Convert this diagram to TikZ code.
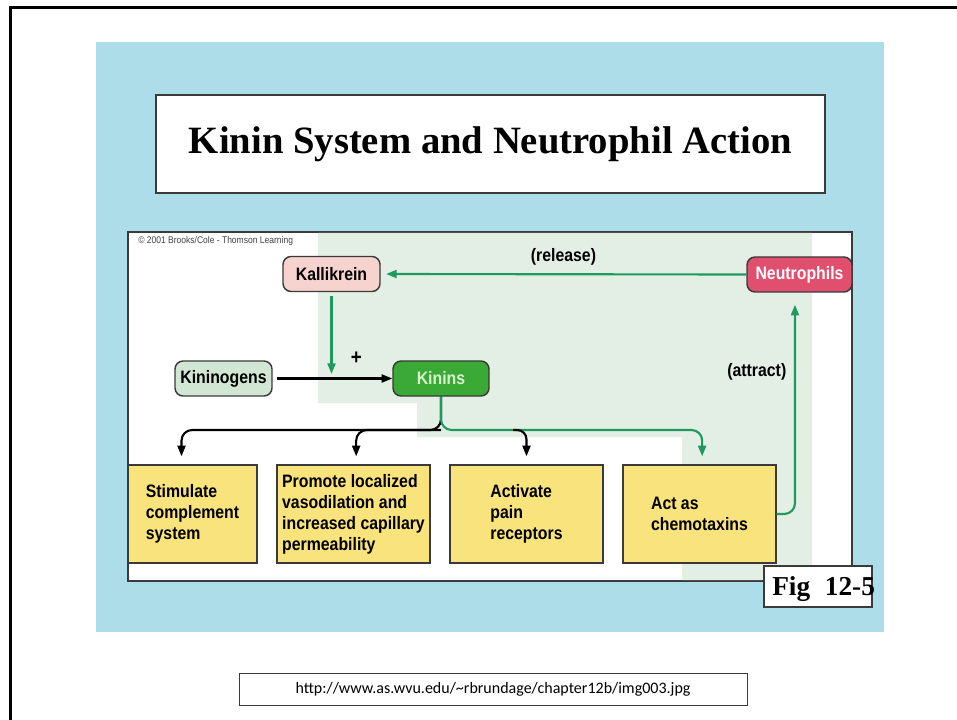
\documentclass[tikz,border=0pt]{standalone}
\usepackage{fontspec}
\setmainfont{Liberation Serif}
\setsansfont{Liberation Sans}[FakeStretch=0.88]
\newfontfamily\urlfont{Carlito}
\usepackage{xcolor}
\usepackage{tikz}
\usetikzlibrary{positioning, arrows.meta, calc}
\definecolor{dropblue}{HTML}{ACDDE8}
\definecolor{panelshade}{HTML}{E3EFE5}
\definecolor{kingreen}{HTML}{1E9A5E}
\definecolor{kallipink}{HTML}{F7D3CF}
\definecolor{neutrored}{HTML}{E0506E}
\definecolor{kininfill}{HTML}{3BA935}
\definecolor{kinintext}{HTML}{D9F3CF}
\definecolor{kinogfill}{HTML}{D2E7D3}
\definecolor{effectyellow}{HTML}{F9E37C}
\definecolor{boxline}{HTML}{3A3A3A}

\tikzset{
  labelfont/.style={font=\sffamily\bfseries\fontsize{13.5}{15.75}\selectfont},
  mol/.style={labelfont, draw=boxline, line width=1.1pt, rounded corners=6pt, minimum height=26.25pt, inner sep=2pt},
  effect/.style={labelfont, draw=boxline, line width=1pt, fill=effectyellow, align=left, minimum width=114.75pt, minimum height=73.5pt},
  greenarrow/.style={draw=kingreen, line width=1.6pt, -{Triangle[length=8pt, width=6pt]}},
  blackarrow/.style={draw=black, line width=1.6pt, -{Triangle[length=8pt, width=6pt]}}
}

\begin{document}
\begin{tikzpicture}[x=0.75pt, y=-0.75pt]
  \useasboundingbox (0,0) rectangle (957,720);
  \fill[white] (0,0) rectangle (957,720);
  \draw[line width=2.25pt] (10,8) rectangle (962,726);
  \fill[dropblue] (96,42) rectangle (884,632);

  \node[draw=boxline, line width=1pt, fill=white, minimum width=501.75pt, minimum height=73.5pt,
        font=\bfseries\fontsize{29}{33}\selectfont] (title) at (490.5,144) {Kinin System and Neutrophil Action};

  \draw[draw=boxline, line width=0.8pt, fill=white] (128,232) rectangle (852,581);
  \fill[panelshade] (318,233) -- (812,233) -- (812,580) -- (682,580) -- (682,437) -- (417,437) -- (417,403) -- (318,403) -- cycle;
  \node[anchor=west, inner sep=0, text=darkgray, font=\sffamily\fontsize{7.25}{8}\selectfont] (credit) at (138,241)
       {\textcopyright\ 2001 Brooks/Cole - Thomson Learning};

  \node[mol, fill=kallipink, minimum width=72.75pt] (kallikrein) at (331.5,274) {Kallikrein};
  \node[mol, fill=kinogfill, minimum width=72.75pt] (kininogens) at (223.5,378.5) {Kininogens};
  \node[mol, fill=kininfill, text=kinintext, minimum width=72pt] (kinins) at (441,378.5) {Kinins};
  \node[mol, fill=neutrored, text=white, minimum width=78.75pt] (neutrophils) at (799.5,274.5) {Neutrophils};

  \node[effect, minimum width=96.75pt] (complement) at (192.5,514) {Stimulate\\complement\\system};
  \node[effect] (vaso) at (353.5,514) {Promote localized\\vasodilation and\\increased capillary\\permeability};
  \node[effect] (pain) at (526.5,514) {Activate\\pain\\receptors};
  \node[effect] (chemo) at (699.5,514) {Act as\\chemotaxins};

  \draw[greenarrow, shorten >=4pt] (neutrophils.west) -- node[labelfont, above=3pt] {(release)} (kallikrein.east);
  \coordinate (cut) at (331.5,374);
  \draw[greenarrow, shorten <=3pt] (kallikrein.south) -- (cut);
  \draw[blackarrow, shorten <=3pt] (kininogens.east) -- node[pos=0.7, above=6pt, font=\sffamily\bfseries\fontsize{16}{16}\selectfont] {+} (kinins.west);

  \coordinate (split) at (441,430);
  \coordinate (fork) at (513,430);
  \draw[blackarrow, rounded corners=8pt] (kinins.south) -- (split) -| ([xshift=-8.25pt, yshift=6pt]complement.north);
  \draw[blackarrow, rounded corners=8pt] (split) -| ([xshift=2pt, yshift=6pt]vaso.north);
  \draw[greenarrow, rounded corners=8pt] (kinins.south) -- (split) -| ([xshift=2pt, yshift=6pt]chemo.north);
  \draw[blackarrow, rounded corners=7pt] (fork) -| ([yshift=6pt]pain.north);

  \draw[greenarrow, rounded corners=8pt] (chemo.east) -| ([xshift=-3.4pt, yshift=-9pt]neutrophils.south);
  \node[labelfont, anchor=east] (attract) at (791,372) {(attract)};

  \node[draw=boxline, line width=1pt, fill=white, minimum width=81pt, minimum height=30.75pt] (figbox) at (818,586.5) {};
  \node[anchor=base west, inner sep=0, font=\bfseries\fontsize{20.5}{24}\selectfont] (figlabel) at (772,595) {Fig\hspace{11pt}12-5};

  \node[draw=boxline, line width=0.6pt, minimum width=381pt, minimum height=24pt,
        font=\urlfont\fontsize{12}{14}\selectfont] (source) at (493,689)
       {http://www.as.wvu.edu/\textasciitilde rbrundage/chapter12b/img003.jpg};
\end{tikzpicture}
\end{document}
